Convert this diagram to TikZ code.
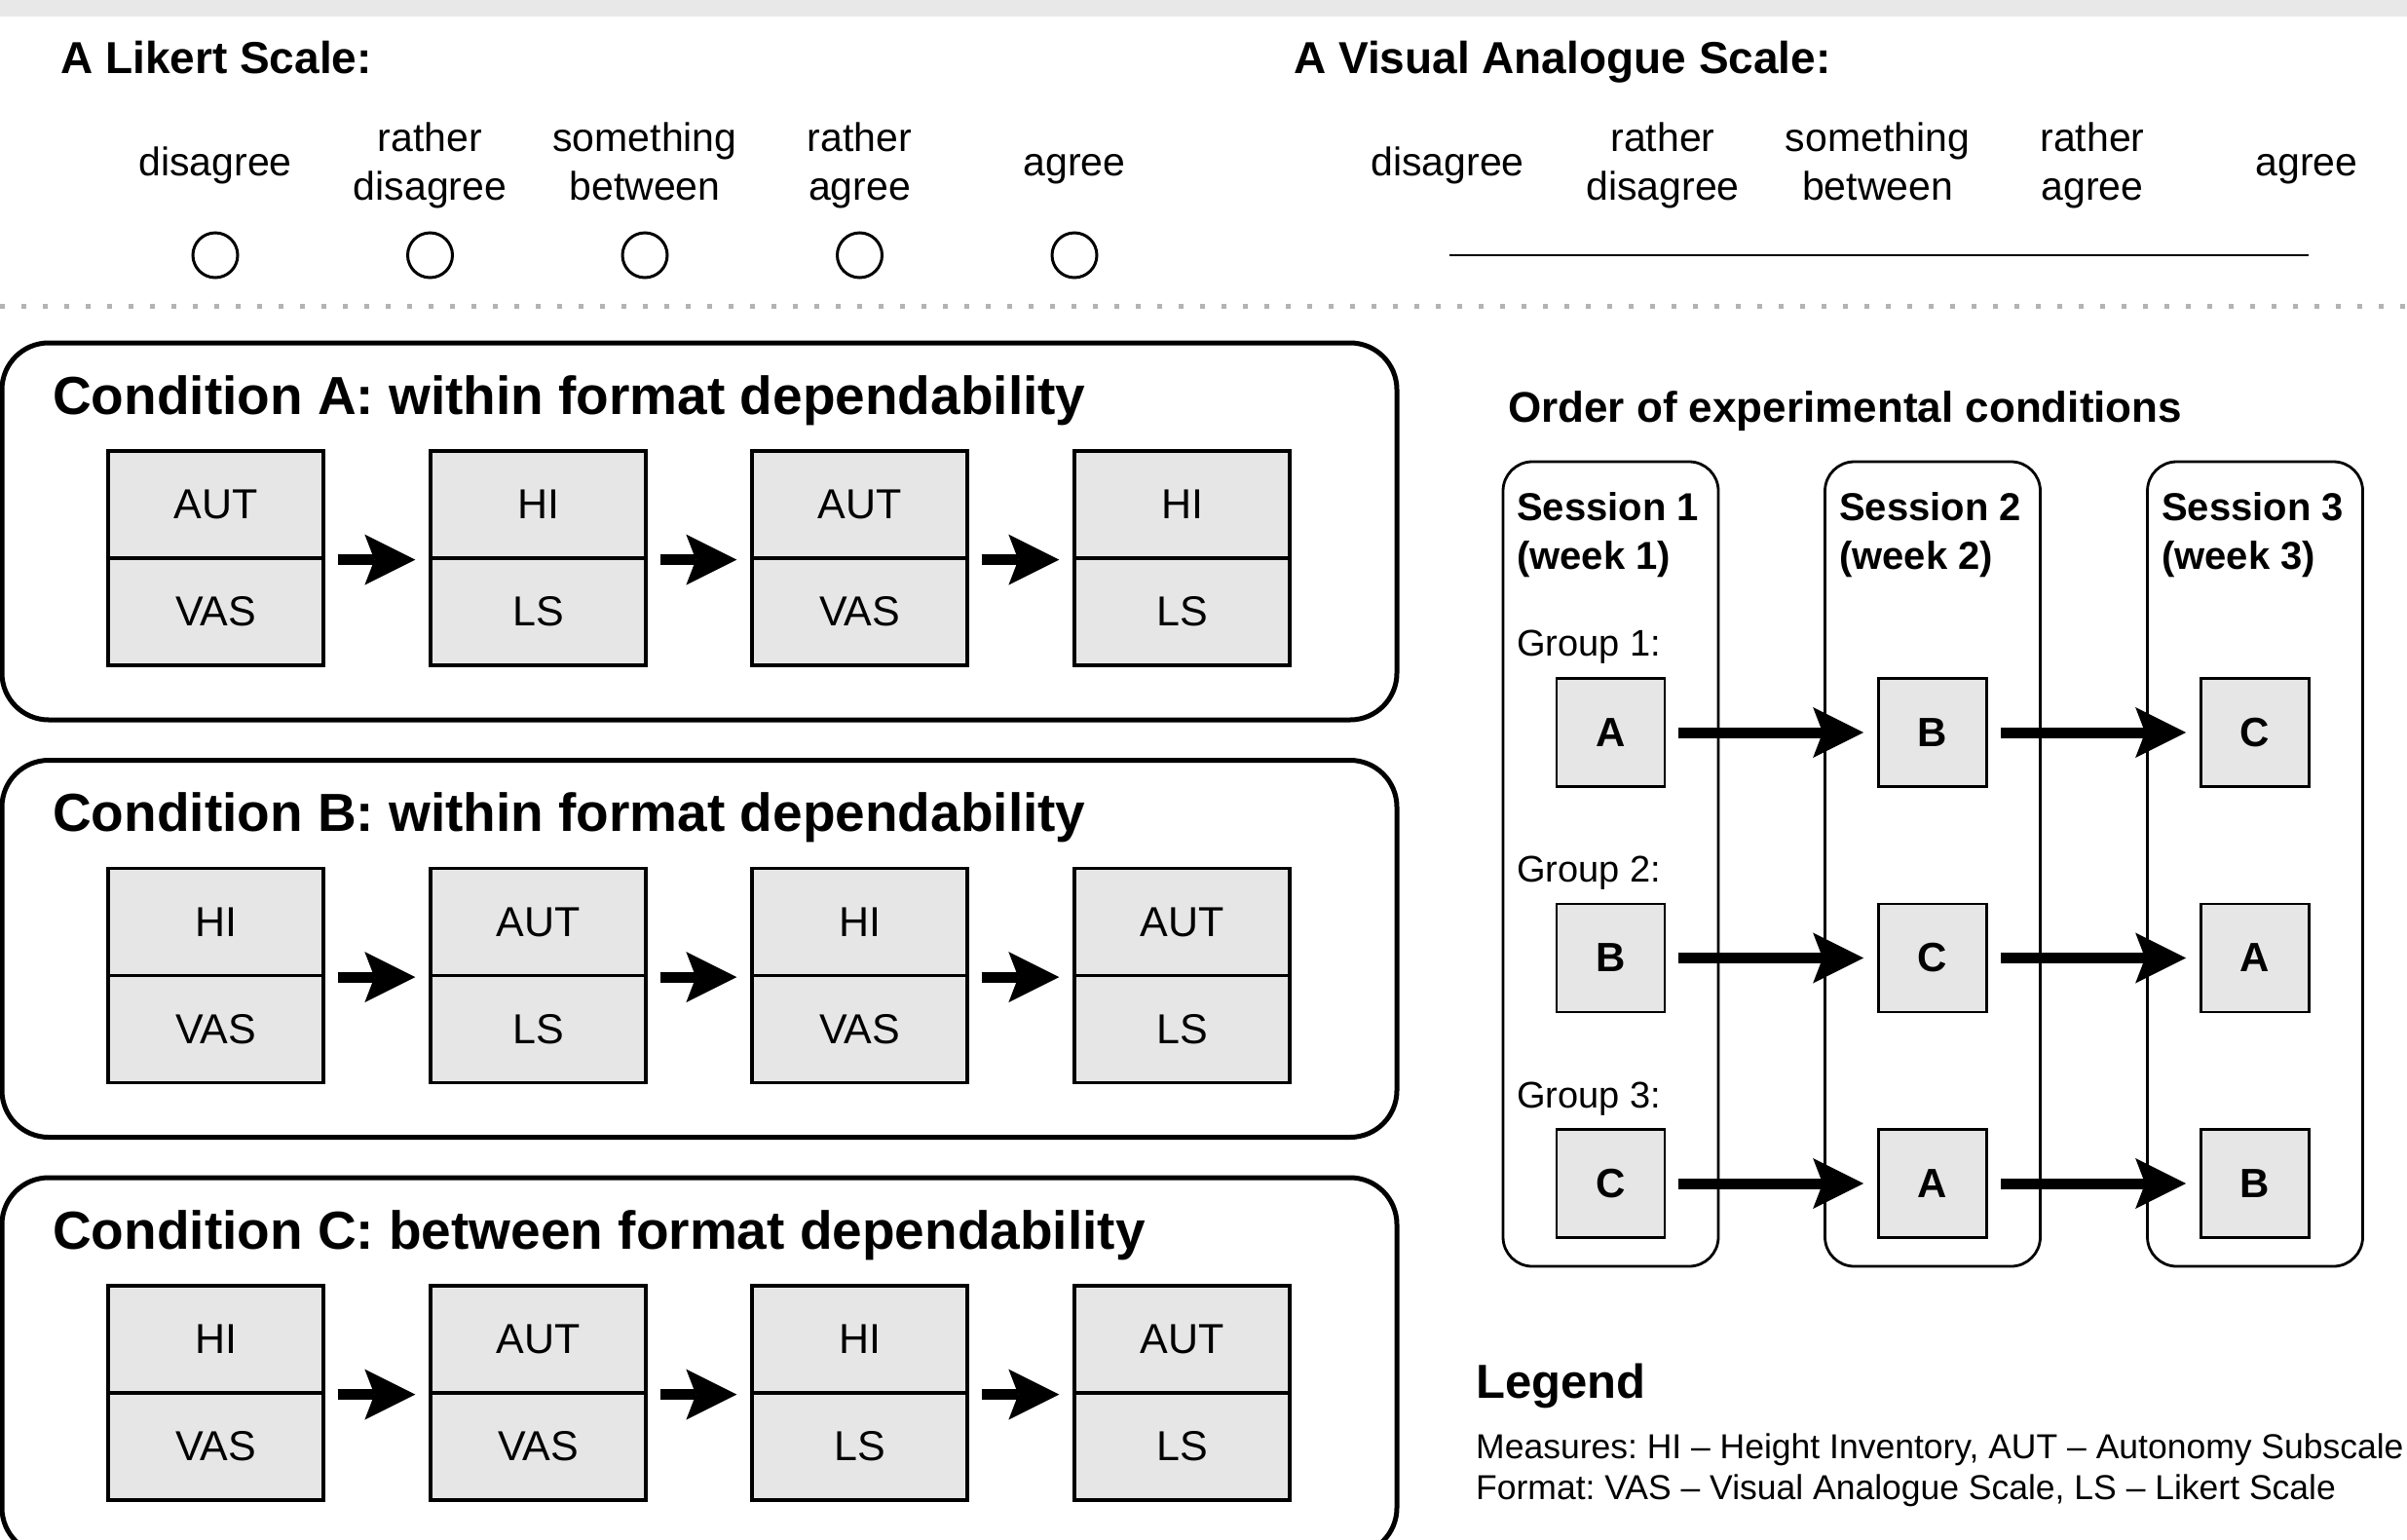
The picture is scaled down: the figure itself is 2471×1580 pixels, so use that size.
\documentclass[tikz,border=0pt]{standalone}
\usepackage{fontspec}
\setmainfont{Liberation Sans}
\usetikzlibrary{arrows.meta}
\frenchspacing
\definecolor{cellgray}{HTML}{E6E6E6}
\definecolor{topgray}{HTML}{E8E8E8}
\definecolor{sepgray}{HTML}{B3B3B3}
\tikzset{
  lab/.style={font=\fontsize{41}{50}\selectfont, align=center, inner sep=0pt},
  htitle/.style={font=\bfseries\fontsize{46}{55}\selectfont, inner sep=0pt, anchor=base west},
  ctitle/.style={font=\bfseries\fontsize{55}{66}\selectfont, inner sep=0pt, anchor=base west},
  otitle/.style={font=\bfseries\fontsize{44}{53}\selectfont, inner sep=0pt, anchor=base west},
  ltitle/.style={font=\bfseries\fontsize{49}{58}\selectfont, inner sep=0pt, anchor=base west},
  condbox/.style={draw, line width=5pt, rounded corners=48pt, minimum width=1432pt, minimum height=387pt, inner sep=0pt},
  cell/.style={draw, line width=3.3pt, fill=cellgray, minimum width=221pt, minimum height=110pt, inner sep=0pt, font=\fontsize{43}{50}\selectfont},
  flow/.style={line width=11pt, -{Stealth[length=52pt,width=52pt,inset=10pt,line width=0pt]}, shorten <=13pt, shorten >=14pt},
  sessbox/.style={draw, line width=2.8pt, rounded corners=30pt, minimum width=221pt, minimum height=826pt, inner sep=0pt},
  sesslab/.style={font=\bfseries\fontsize{40}{50}\selectfont, align=left, inner sep=0pt, anchor=north west},
  grplab/.style={font=\fontsize{38}{46}\selectfont, inner sep=0pt, anchor=base west},
  grpbox/.style={draw, line width=2.8pt, fill=cellgray, minimum size=111pt, inner sep=0pt, font=\bfseries\fontsize{42}{50}\selectfont},
  radio/.style={circle, draw, line width=3pt, minimum size=46pt, inner sep=0pt},
  legtext/.style={font=\fontsize{35.5}{42}\selectfont, align=left, inner sep=0pt, anchor=north west}
}
\begin{document}
\begin{tikzpicture}[x=1pt,y=-1pt]
\clip (0,0) rectangle (2471,1580);
\path[use as bounding box] (0,0) rectangle (2471,1580);
\fill[topgray] (0,0) rectangle (2471,17);

% Likert scale
\node[htitle] (lt) at (62,75) {A Likert Scale:};
\foreach \x/\t/\n in {221/{\strut disagree}/1, 441.5/{\strut rather\\\strut disagree}/2, 662/{\strut something\\\strut between}/3, 882.5/{\strut rather\\\strut agree}/4, 1103/{\strut agree}/5}{
  \node[lab] (ll\n) at (\x,170) {\t};
  \node[radio] (lc\n) at (\x,262) {};
}

% Visual analogue scale
\node[htitle] (vt) at (1328,75) {A Visual Analogue Scale:};
\foreach \x/\t/\n in {1486/{\strut disagree}/1, 1707/{\strut rather\\\strut disagree}/2, 1927.5/{\strut something\\\strut between}/3, 2148/{\strut rather\\\strut agree}/4, 2368/{\strut agree}/5}{
  \node[lab] (vl\n) at (\x,170) {\t};
}
\coordinate (vasL) at (1487.5,262);
\coordinate (vasR) at (2370,262);
\draw[line width=2.8pt] (vasL) -- (vasR);

% separator
\draw[sepgray, line width=5pt, dash pattern=on 5pt off 17pt] (0,314) -- (2471,314);

% Conditions
\foreach \c/\yo/\name/\ta/\ba/\tb/\bb/\tc/\bc/\td/\bd in {
  A/0/{within format dependability}/AUT/VAS/HI/LS/AUT/VAS/HI/LS,
  B/428.5/{within format dependability}/HI/VAS/AUT/LS/HI/VAS/AUT/LS,
  C/857/{between format dependability}/HI/VAS/AUT/VAS/HI/LS/AUT/LS}{
  \node[condbox] (cond\c) at (718,545.5+\yo) {};
  \node[ctitle] (ctit\c) at (54,425+\yo) {Condition \c: \name};
  \node[cell] (\c1t) at (221.5,518+\yo) {\ta};
  \node[cell] (\c1b) at (221.5,628+\yo) {\ba};
  \node[cell] (\c2t) at (552.5,518+\yo) {\tb};
  \node[cell] (\c2b) at (552.5,628+\yo) {\bb};
  \node[cell] (\c3t) at (882.5,518+\yo) {\tc};
  \node[cell] (\c3b) at (882.5,628+\yo) {\bc};
  \node[cell] (\c4t) at (1213.5,518+\yo) {\td};
  \node[cell] (\c4b) at (1213.5,628+\yo) {\bd};
  \draw[flow] (\c1t.south east) -- (\c2t.south west);
  \draw[flow] (\c2t.south east) -- (\c3t.south west);
  \draw[flow] (\c3t.south east) -- (\c4t.south west);
}

% Order of experimental conditions
\node[otitle] (ot) at (1548,433) {Order of experimental conditions};
\node[sessbox] (s1) at (1653.5,887) {};
\node[sessbox] (s2) at (1984,887) {};
\node[sessbox] (s3) at (2315,887) {};
\node[sesslab] (sl1) at (1557,499) {\strut Session 1\\\strut (week 1)};
\node[sesslab] (sl2) at (1888,499) {\strut Session 2\\\strut (week 2)};
\node[sesslab] (sl3) at (2219,499) {\strut Session 3\\\strut (week 3)};
\node[grplab] (gl1) at (1557,673) {Group 1:};
\node[grplab] (gl2) at (1557,905) {Group 2:};
\node[grplab] (gl3) at (1557,1137) {Group 3:};
\foreach \r/\y/\p/\q/\s in {1/752/A/B/C, 2/983.5/B/C/A, 3/1215/C/A/B}{
  \node[grpbox] (g\r a) at (1653.5,\y) {\p};
  \node[grpbox] (g\r b) at (1984,\y) {\q};
  \node[grpbox] (g\r c) at (2315,\y) {\s};
  \draw[flow] (g\r a.east) -- (g\r b.west);
  \draw[flow] (g\r b.east) -- (g\r c.west);
}

% Legend
\node[ltitle] (leg) at (1515,1435) {Legend};
\node[legtext] (legt) at (1515,1467.6) {\strut Measures: HI – Height Inventory, AUT – Autonomy Subscale\\\strut Format: VAS – Visual Analogue Scale, LS – Likert Scale};
\end{tikzpicture}
\end{document}
